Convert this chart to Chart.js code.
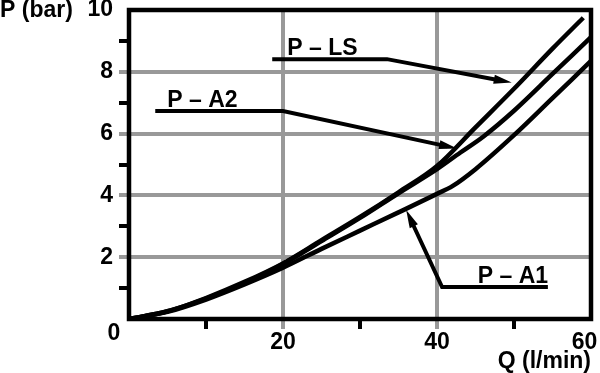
<!DOCTYPE html>
<html>
<head>
<meta charset="utf-8">
<script src="https://cdn.jsdelivr.net/npm/chart.js@4.4.0/dist/chart.umd.min.js"></script>
<style>
  html, body { margin: 0; padding: 0; background: #fff; }
  #wrap { width: 600px; height: 373px; }
</style>
</head>
<body>
<div id="wrap"><canvas id="chart"></canvas></div>
<script>
// flow Q (l/min) and pressure P (bar)
var qLS = [0, 5, 10, 15, 20, 25, 30, 35, 40, 45, 50, 55, 59];
var pLS = [0, 0.25, 0.68, 1.2, 1.8, 2.55, 3.3, 4.1, 4.95, 6.2, 7.45, 8.75, 9.75];
var qA2 = [0, 5, 10, 15, 20, 25, 30, 35, 40, 43, 46, 50, 55, 60];
var pA2 = [0, 0.25, 0.66, 1.17, 1.78, 2.52, 3.27, 4.07, 4.85, 5.38, 5.9, 6.74, 7.93, 9.12];
var qA1 = [0, 5, 10, 15, 20, 25, 30, 35, 40, 42, 45, 50, 55, 60];
var pA1 = [0, 0.23, 0.63, 1.12, 1.66, 2.27, 2.86, 3.45, 4.05, 4.3, 4.85, 5.95, 7.15, 8.35];

var qLabels = [20, 40, 60];
var pLabels = [2, 4, 6, 8, 10];
var qGrid = [20, 40];
var pGrid = [2, 4, 6, 8];

// label callouts, placed in data units
var notes = [
  { text: 'P \u2013 LS', at: [20.55, 8.54], path: [[18.6, 8.41], [33.5, 8.41], [49.7, 7.65]] },
  { text: 'P \u2013 A2', at: [4.97, 6.87], path: [[3.41, 6.73], [20.0, 6.73], [42.6, 5.52]] },
  { text: 'P \u2013 A1', at: [45.3, 1.17], path: [[54.4, 1.036], [40.66, 1.036], [36.0, 3.53]] }
];

var FONT = "'Liberation Sans', Arial, sans-serif";
var GRAY = '#999';

function toPoints(xs, ys) {
  return xs.map(function (x, i) { return { x: x, y: ys[i] }; });
}

var extras = {
  id: 'extras',
  afterDatasetsDraw: function (chart) {
    var c = chart.ctx, a = chart.chartArea;
    var sx = chart.scales.x, sy = chart.scales.y;
    c.save();
    // frame
    c.strokeStyle = '#000';
    c.lineWidth = 4.5;
    c.strokeRect(a.left, a.top, a.right - a.left, a.bottom - a.top);

    // callouts
    c.lineWidth = 4;
    c.lineJoin = 'miter';
    c.fillStyle = '#000';
    c.font = 'bold 23px ' + FONT;
    c.textAlign = 'left';
    c.textBaseline = 'alphabetic';
    notes.forEach(function (n) {
      var pts = n.path.map(function (p) {
        return [sx.getPixelForValue(p[0]), sy.getPixelForValue(p[1])];
      });
      var tip = pts[pts.length - 1], prev = pts[pts.length - 2];
      var ang = Math.atan2(tip[1] - prev[1], tip[0] - prev[0]);
      var cos = Math.cos(ang), sin = Math.sin(ang);
      c.beginPath();
      c.moveTo(pts[0][0], pts[0][1]);
      for (var i = 1; i < pts.length - 1; i++) c.lineTo(pts[i][0], pts[i][1]);
      c.lineTo(tip[0] - 10 * cos, tip[1] - 10 * sin);
      c.stroke();
      c.beginPath();
      c.moveTo(tip[0], tip[1]);
      c.lineTo(tip[0] - 18 * cos + 4.5 * sin, tip[1] - 18 * sin - 4.5 * cos);
      c.lineTo(tip[0] - 18 * cos - 4.5 * sin, tip[1] - 18 * sin + 4.5 * cos);
      c.closePath();
      c.fill();
      c.fillText(n.text, sx.getPixelForValue(n.at[0]), sy.getPixelForValue(n.at[1]));
    });

    // shared origin label and y title
    c.textAlign = 'center';
    c.fillText('0', a.left - 15, a.bottom + 21);
    c.textAlign = 'left';
    c.fillText('P (bar)', 0, 17);
    c.restore();
  }
};

var ctx = document.getElementById('chart');
var chart = new Chart(ctx, {
  type: 'line',
  data: {
    datasets: [
      { label: 'P - LS', data: toPoints(qLS, pLS) },
      { label: 'P - A2', data: toPoints(qA2, pA2) },
      { label: 'P - A1', data: toPoints(qA1, pA1) }
    ]
  },
  options: {
    responsive: true,
    maintainAspectRatio: false,
    animation: false,
    layout: { padding: { top: 10, right: 9, left: 0, bottom: 0 } },
    elements: {
      line: { borderColor: '#000', borderWidth: 4.5, fill: false, cubicInterpolationMode: 'monotone' },
      point: { radius: 0 }
    },
    plugins: {
      legend: { display: false },
      tooltip: { enabled: false }
    },
    scales: {
      x: {
        type: 'linear',
        min: 0,
        max: 60,
        afterFit: function (s) {
          s.height = 54;
          s.paddingLeft = 0;
          s.paddingRight = 0;
        },
        border: { display: false },
        grid: {
          lineWidth: 4,
          tickLength: 10,
          tickWidth: 4,
          color: function (c) { return qGrid.indexOf(c.tick.value) >= 0 ? GRAY : 'rgba(0,0,0,0)'; },
          tickColor: function (c) {
            var v = c.tick.value;
            if (qGrid.indexOf(v) >= 0) return GRAY;
            return (v % 20 === 10) ? '#000' : 'rgba(0,0,0,0)';
          }
        },
        ticks: {
          stepSize: 10,
          autoSkip: false,
          maxRotation: 0,
          padding: 0,
          color: '#000',
          font: { family: FONT, size: 23, weight: 'bold' },
          callback: function (v) {
            if (qLabels.indexOf(v) < 0) return '';
            // last label sits inside the canvas edge
            return v === 60 ? '60\u00a0\u00a0' : String(v);
          }
        },
        title: {
          display: true,
          text: 'Q (l/min)',
          align: 'end',
          color: '#000',
          padding: 0,
          font: { family: FONT, size: 23, weight: 'bold', lineHeight: 1 }
        }
      },
      y: {
        min: 0,
        max: 10,
        afterFit: function (s) {
          s.width = 129;
          s.paddingTop = 0;
          s.paddingBottom = 0;
        },
        border: { display: false },
        grid: {
          lineWidth: 4,
          tickLength: 10,
          tickWidth: 4,
          color: function (c) { return pGrid.indexOf(c.tick.value) >= 0 ? GRAY : 'rgba(0,0,0,0)'; },
          tickColor: function (c) {
            var v = c.tick.value;
            if (pGrid.indexOf(v) >= 0) return GRAY;
            return (v % 2 === 1) ? '#000' : 'rgba(0,0,0,0)';
          }
        },
        ticks: {
          stepSize: 1,
          autoSkip: false,
          padding: 6,
          color: '#000',
          font: { family: FONT, size: 23, weight: 'bold' },
          callback: function (v) { return pLabels.indexOf(v) >= 0 ? String(v) : ''; }
        }
      }
    }
  },
  plugins: [extras]
});
</script>
</body>
</html>
